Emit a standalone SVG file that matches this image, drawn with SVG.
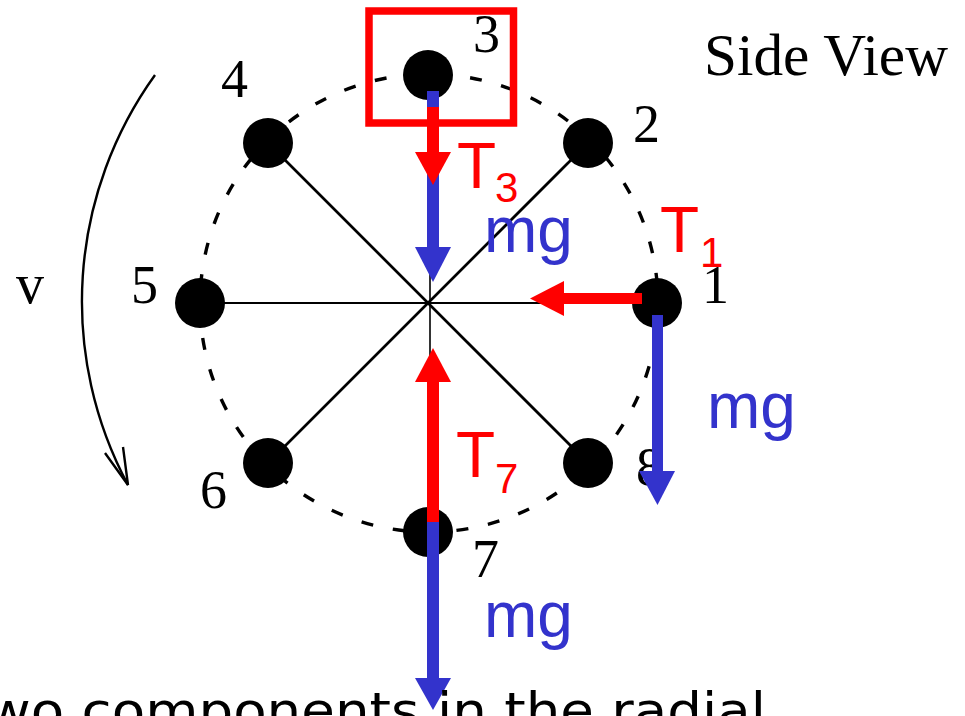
<svg xmlns="http://www.w3.org/2000/svg" width="965" height="716" viewBox="0 0 965 716">
<style>
.serif{font-family:"Liberation Serif","Times New Roman",serif;fill:#000}
.num{font-size:54px}
.sans{font-family:"Liberation Sans",Arial,sans-serif}
.red{fill:#ff0000}
.blue{fill:#3333cc}
.big{font-size:64px}
.sub{font-size:42px}
.node{fill:#000}
</style>
<rect width="965" height="716" fill="#fff"/>
<g id="rim">
<circle cx="429" cy="303" r="229" fill="none" stroke="#000" stroke-width="3.4" stroke-dasharray="12 20"/>
</g>
<g id="spokes" stroke="#000" fill="none">
<line x1="200" y1="303" x2="657" y2="303" stroke-width="2"/>
<line x1="430" y1="75" x2="430" y2="532" stroke-width="1.6"/>
<line x1="268" y1="143" x2="588" y2="463" stroke-width="2.7"/>
<line x1="268" y1="463" x2="588" y2="143" stroke-width="2.7"/>
</g>
<g id="node1"><circle class="node" cx="657" cy="303" r="25"/><text class="serif num" x="702" y="303">1</text></g>
<g id="node2"><circle class="node" cx="588" cy="143" r="25"/><text class="serif num" x="633" y="142">2</text></g>
<g id="node3"><circle class="node" cx="428" cy="75" r="25"/><text class="serif num" x="473" y="52">3</text></g>
<g id="node4"><circle class="node" cx="268" cy="143" r="25"/><text class="serif num" x="221" y="97">4</text></g>
<g id="node5"><circle class="node" cx="200" cy="303" r="25"/><text class="serif num" x="131" y="303">5</text></g>
<g id="node6"><circle class="node" cx="268" cy="463" r="25"/><text class="serif num" x="200" y="508">6</text></g>
<g id="node7"><circle class="node" cx="428" cy="532" r="25"/><text class="serif num" x="472" y="577">7</text></g>
<g id="node8"><circle class="node" cx="588" cy="463" r="25"/><text class="serif num" x="636" y="485">8</text></g>
<g id="rotation">
<path d="M155,75 A388,388 0 0 0 128,485" fill="none" stroke="#000" stroke-width="2.4"/>
<path d="M105,453 L128,485 L123,447" fill="none" stroke="#000" stroke-width="2.4"/>
<text class="serif" x="16" y="303" font-size="56">v</text>
</g>
<g id="title"><text class="serif" x="704" y="75" font-size="59" textLength="244" lengthAdjust="spacingAndGlyphs">Side View</text></g>
<g id="highlight"><rect x="369" y="11" width="144.5" height="112" fill="none" stroke="#ff0000" stroke-width="7.5"/></g>
<g id="connectors">
<rect class="blue" x="427" y="91" width="12" height="157"/>
<polygon class="blue" points="415,247 451,247 433,282"/>
<rect class="red" x="427" y="107" width="12" height="46"/>
<polygon class="red" points="415,152 451,152 433,185"/>
<rect class="red" x="563" y="293" width="79" height="11"/>
<polygon class="red" points="564,281 564,316 530,298.5"/>
<rect class="blue" x="652" y="315" width="11" height="157"/>
<polygon class="blue" points="639,471 675,471 657.5,505"/>
<rect class="red" x="427" y="381" width="12" height="141"/>
<polygon class="red" points="415,382 451,382 433,348"/>
<rect class="blue" x="427" y="522" width="12" height="157"/>
<polygon class="blue" points="415,678 451,678 433,710"/>
</g>
<g id="labels" class="sans">
<text class="red big" x="457" y="188">T</text><text class="red sub" x="495" y="202">3</text>
<text class="blue big" x="484" y="252">mg</text>
<text class="red big" x="660" y="252">T</text><text class="red sub" x="700" y="267">1</text>
<text class="blue big" x="707" y="428">mg</text>
<text class="red big" x="456" y="477">T</text><text class="red sub" x="495" y="493">7</text>
<text class="blue big" x="484" y="637">mg</text>
</g>
<g id="caption"><text x="-14" y="728" font-family="'DejaVu Sans',sans-serif" font-size="50" textLength="780" lengthAdjust="spacingAndGlyphs" fill="#000">wo components in the radial</text></g>
</svg>
